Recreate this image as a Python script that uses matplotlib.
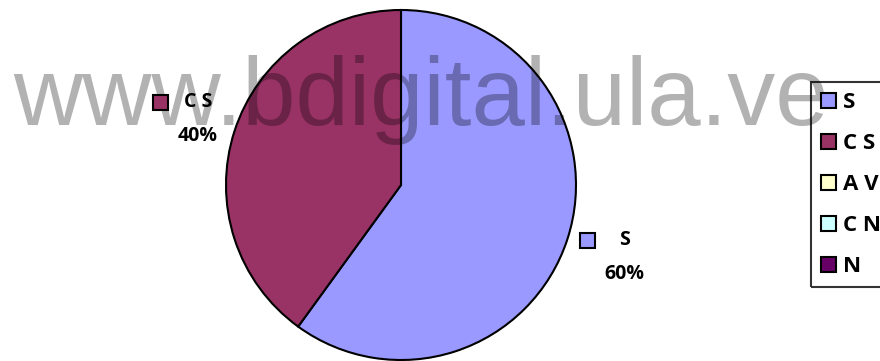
import matplotlib
matplotlib.use("Agg")
import matplotlib.pyplot as plt
import numpy as np
from matplotlib.patches import Patch, Rectangle

categories = ["S", "C S", "A V", "C N", "N"]
values = [60, 40, 0, 0, 0]
colors = ["#9999FF", "#993366", "#FFFFCC", "#CCFFFF", "#660066"]
watermark = "www.bdigital.ula.ve"

W, H = 880, 361
fig = plt.figure(figsize=(W / 100, H / 100), dpi=100)
ax = fig.add_axes([0, 0, 1, 1])

# pie drawn in pixel units
cx, cy, r = 401, H - 185, 175
shown = [i for i, v in enumerate(values) if v > 0]
wedges, _ = ax.pie(
    [values[i] for i in shown],
    colors=[colors[i] for i in shown],
    startangle=90,
    counterclock=False,
    center=(cx, cy),
    radius=r,
    wedgeprops=dict(edgecolor="black", linewidth=1.5),
)
ax.set_xlim(0, W)
ax.set_ylim(0, H)
ax.set_aspect("equal")
ax.axis("off")

# watermark over the pie
ax.text(13, H - 125, watermark, fontsize=69, family="Liberation Sans",
        color="black", alpha=0.3, ha="left", va="baseline", zorder=3)

# data labels: key + name, percent below
label_font = dict(family="Open Sans", weight="bold", fontsize=14)
label_dist = [1.34, 1.22]
total = sum(values)
for k, (w, i) in enumerate(zip(wedges, shown)):
    mid = np.deg2rad((w.theta1 + w.theta2) / 2)
    lx = cx + label_dist[k] * r * np.cos(mid)
    ly = cy + label_dist[k] * r * np.sin(mid)
    ax.text(lx, ly + 17, categories[i], ha="center", va="center", zorder=5, **label_font)
    ax.text(lx, ly - 17, f"{values[i] / total * 100:.0f}%", ha="center", va="center",
            zorder=5, **label_font)
    ax.add_patch(Rectangle((lx - 37 - 7.5, ly + 17 - 7.5), 15, 15, facecolor=colors[i],
                           edgecolor="black", linewidth=1.5, zorder=5))

handles = [Patch(facecolor=c, edgecolor="black", linewidth=1.5) for c in colors]
leg = ax.legend(handles, categories, loc="upper left", bbox_to_anchor=(811, H - 82),
                bbox_transform=ax.transData, borderaxespad=0, frameon=True,
                fancybox=False, prop=dict(family="Open Sans", weight="bold", size=16),
                handlelength=0.68, handleheight=0.68, handletextpad=0.3,
                borderpad=0.45, labelspacing=0.9)
leg.get_frame().set_edgecolor("black")
leg.get_frame().set_linewidth(1.5)
leg.get_frame().set_facecolor("none")
leg.set_zorder(5)

fig.savefig("out.png", dpi=100)
